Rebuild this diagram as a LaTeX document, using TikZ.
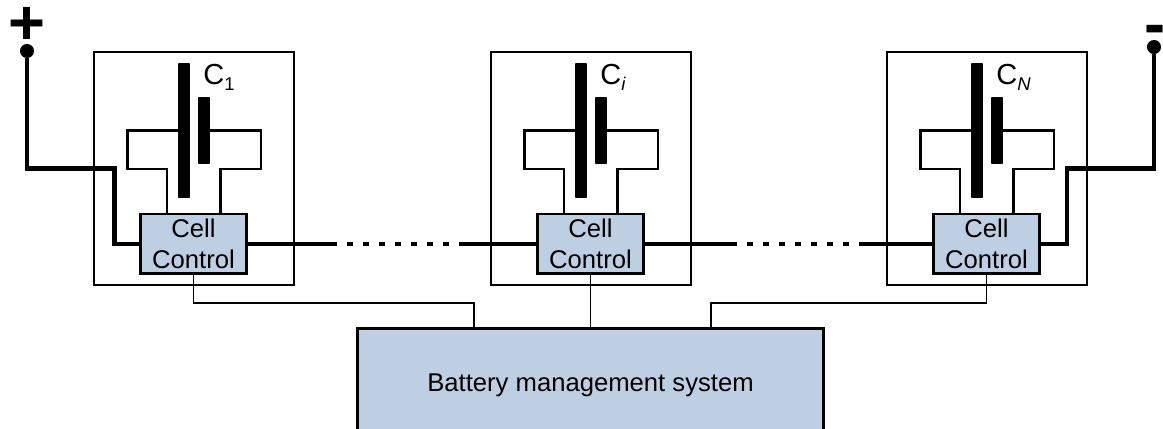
\documentclass[tikz,border=0pt]{standalone}
\usepackage{fontspec}
\setmainfont{Liberation Sans}
\definecolor{ctrlblue}{RGB}{191,207,227}
\tikzset{
  wire/.style={line width=2.3pt},
  edge/.style={line width=1.45pt},
  thin wire/.style={line width=0.8pt},
  ctrlbox/.style={draw,edge,fill=ctrlblue,inner sep=0pt,minimum width=60.5pt,minimum height=34pt,align=center,font=\fontsize{14.6}{17.6}\selectfont},
  cellbox/.style={draw,edge,inner sep=0pt,minimum width=113.8pt,minimum height=132.6pt},
  plate/.style={fill=black,inner sep=0pt,rounded corners=0.5pt},
  terminal/.style={circle,fill=black,inner sep=0pt,minimum size=8pt},
  sign/.style={inner sep=0pt,font=\fontsize{36}{36}\selectfont\bfseries},
}
\begin{document}
\begin{tikzpicture}[x=0.02cm,y=-0.02cm]
\useasboundingbox (0,0) rectangle (1163,429);
\clip (0,0) rectangle (1163,429);

% cells
\foreach \x/\n/\s in {0/1/1,397/2/\textit{i},793/3/\textit{N}}{
  \node[cellbox] (cell\n) at (194+\x,168.5) {};
  \coordinate (tl\n) at (178+\x,130.5);
  \coordinate (tr\n) at (210+\x,130.5);
  \coordinate (bl\n) at (167+\x,213);
  \coordinate (br\n) at (220.5+\x,213);
  \draw[edge] (tl\n) -- (127.5+\x,130.5) |- (167+\x,169) -- (bl\n);
  \draw[edge] (tr\n) -- (261+\x,130.5) |- (220.5+\x,169) -- (br\n);
  \node[plate,minimum width=6.8pt,minimum height=76.8pt] (long\n) at (184+\x,130.5) {};
  \node[plate,minimum width=6.8pt,minimum height=38.1pt] (short\n) at (204+\x,130.5) {};
  \node[ctrlbox] (ctrl\n) at (193.5+\x,243.7) {Cell\\Control};
  \node[anchor=west,inner sep=0pt,font=\fontsize{16.5}{18}\selectfont] (lab\n) at (203+\x,77) {C\raisebox{-3.5pt}{\fontsize{10.5}{12}\selectfont\s}};
}

% terminals
\node[sign] (plus) at (27,26) {+};
\node[terminal] (tplus) at (27,51) {};
\node[sign] (minus) at (1155,35) {-};
\node[terminal] (tminus) at (1154,47) {};
\draw[wire] (tplus) |- (114.5,168.5) |- (ctrl1.west);
\draw[wire] (tminus) |- (1067,168.5) |- (ctrl3.east);

% series links
\coordinate (a1) at (337,243.7);
\coordinate (a2) at (459,243.7);
\coordinate (b1) at (737,243.7);
\coordinate (b2) at (860,243.7);
\draw[wire] (ctrl1.east) -- (a1);
\draw[wire] (a2) -- (ctrl2.west);
\draw[wire] (ctrl2.east) -- (b1);
\draw[wire] (b2) -- (ctrl3.west);
\draw[wire,dash pattern=on 3.4pt off 5.7pt,dash phase=-5.7pt] (a1) -- (a2);
\draw[wire,dash pattern=on 3.4pt off 5.7pt,dash phase=-5.7pt] (b1) -- (b2);

% management system
\node[draw,line width=1.7pt,fill=ctrlblue,inner sep=0pt,minimum width=265.5pt,minimum height=64.8pt,font=\fontsize{14.6}{17}\selectfont] (bms) at (590.5,385) {Battery management system};
\draw[thin wire] (ctrl1.south) |- (474,303) -- (474,328);
\draw[thin wire] (ctrl2.south) -- (ctrl2.south |- bms.north);
\draw[thin wire] (ctrl3.south) |- (711,303) -- (711,328);
\end{tikzpicture}
\end{document}
